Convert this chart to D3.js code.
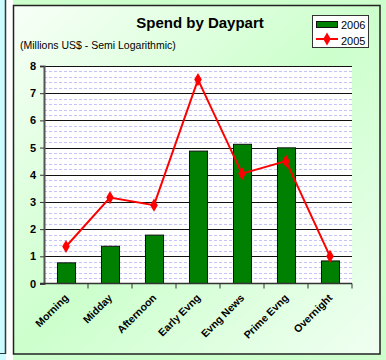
<!DOCTYPE html>
<html>
<head>
<meta charset="utf-8">
<script src="https://cdn.jsdelivr.net/npm/d3@7"></script>
<style>
  html, body { margin: 0; padding: 0; background: #ffffff; }
  svg { display: block; font-family: "Liberation Sans", Arial, sans-serif; }
</style>
</head>
<body>
<svg id="chart" width="386" height="360"></svg>
<script>
// Dayparts and spend (millions US$)
const dayparts = ["Morning", "Midday", "Afternoon", "Early Evng", "Evng News", "Prime Evng", "Overnight"];
const spend2006 = [0.76, 1.37, 1.78, 4.87, 5.12, 4.99, 0.83];
const spend2005 = [1.36, 3.16, 2.88, 7.5, 4.04, 4.5, 1.0];
const yTicks = [0, 1, 2, 3, 4, 5, 6, 7, 8];
const seriesNames = ["2006", "2005"];

const svg = d3.select("#chart");
const defs = svg.append("defs");

// Frame background
const grad = defs.append("linearGradient")
  .attr("id", "boxFill").attr("x1", 0).attr("y1", 0).attr("x2", 1).attr("y2", 1);
grad.append("stop").attr("offset", "0%").attr("stop-color", "#f8fff8");
grad.append("stop").attr("offset", "50%").attr("stop-color", "#ccffcc");
grad.append("stop").attr("offset", "100%").attr("stop-color", "#f0fff2");

svg.append("rect").attr("x", 0).attr("y", 0).attr("width", 6).attr("height", 360).attr("fill", "#ccfcff");
svg.append("rect").attr("x", 13).attr("y", 0).attr("width", 373).attr("height", 360).attr("fill", "#ccffcc");
svg.append("line").attr("x1", 5.5).attr("x2", 5.5).attr("y1", 0).attr("y2", 354).attr("stroke", "#2b3a3a").attr("stroke-width", 1.5);
svg.append("line").attr("x1", 0).attr("x2", 6).attr("y1", 353.5).attr("y2", 353.5).attr("stroke", "#2b3a3a").attr("stroke-width", 1);

svg.append("rect")
  .attr("x", 13.5).attr("y", 5.5).attr("width", 366.5).attr("height", 348.5)
  .attr("fill", "url(#boxFill)").attr("stroke", "#222").attr("stroke-width", 1.5);

// Plot geometry
const plot = { left: 44, right: 352, top: 66, bottom: 283.5 };

const x = d3.scaleBand().domain(dayparts).range([plot.left, plot.right]).paddingInner(0.59).paddingOuter(0.295);
const xStep = d3.scaleBand().domain(dayparts).range([plot.left, plot.right]).padding(0);
const y = d3.scaleLinear().domain([0, 8]).range([plot.bottom, plot.top]);

svg.append("rect")
  .attr("x", plot.left).attr("y", plot.top)
  .attr("width", plot.right - plot.left).attr("height", plot.bottom - plot.top)
  .attr("fill", "#ffffff");

// Minor gridlines every 0.2
const minor = d3.range(0, 8, 0.2).map(v => +v.toFixed(1)).filter(v => Math.abs(v - Math.round(v)) > 1e-6);
svg.append("g").selectAll("line").data(minor).join("line")
  .attr("x1", plot.left).attr("x2", plot.right)
  .attr("y1", d => Math.round(y(d)) + 0.5).attr("y2", d => Math.round(y(d)) + 0.5)
  .attr("stroke", "#c4c4f6").attr("stroke-width", 1).attr("stroke-dasharray", "3,2");

// Major gridlines
svg.append("g").selectAll("line").data(yTicks.filter(d => d > 0)).join("line")
  .attr("x1", plot.left).attr("x2", plot.right)
  .attr("y1", d => Math.round(y(d)) + 0.5).attr("y2", d => Math.round(y(d)) + 0.5)
  .attr("stroke", "#111").attr("stroke-width", 1.2);

// Bars (2006)
svg.append("g").selectAll("rect").data(dayparts).join("rect")
  .attr("x", d => x(d) + 0.5)
  .attr("y", (d, i) => y(spend2006[i]))
  .attr("width", x.bandwidth())
  .attr("height", (d, i) => y(0) - y(spend2006[i]))
  .attr("fill", "#008000").attr("stroke", "#111").attr("stroke-width", 1);

// Y axis
const yAxis = svg.append("g").attr("transform", `translate(${plot.left},0)`)
  .call(d3.axisLeft(y).tickValues(yTicks).tickSize(4).tickPadding(4).tickFormat(d3.format("d")));
yAxis.select(".domain").attr("stroke", "#555").attr("stroke-width", 2);
yAxis.selectAll(".tick line").attr("stroke", "#333");
yAxis.selectAll(".tick text").attr("font-size", 11).attr("font-weight", "bold").attr("fill", "#000")
  .attr("font-family", "Liberation Sans, Arial, sans-serif");

// X axis with ticks between categories
const xAxis = svg.append("g").attr("transform", `translate(0,${plot.bottom})`);
xAxis.append("line").attr("x1", plot.left - 4).attr("x2", plot.right).attr("y1", 0).attr("y2", 0)
  .attr("stroke", "#333").attr("stroke-width", 1.5);
const boundaries = dayparts.map(d => xStep(d) + xStep.bandwidth());
xAxis.selectAll("line.tk").data(boundaries).join("line").attr("class", "tk")
  .attr("x1", d => d).attr("x2", d => d).attr("y1", 0).attr("y2", 5)
  .attr("stroke", "#333").attr("stroke-width", 1);
xAxis.selectAll("text").data(dayparts).join("text")
  .attr("transform", d => `translate(${xStep(d) + xStep.bandwidth() / 2 + 3},${15}) rotate(-45)`)
  .attr("text-anchor", "end")
  .attr("font-size", 10.5).attr("font-weight", "bold").attr("fill", "#000")
  .text(d => d);

// Line (2005)
const line = d3.line().x((d, i) => xStep(dayparts[i]) + xStep.bandwidth() / 2).y(d => y(d));
svg.append("path").datum(spend2005)
  .attr("d", line).attr("fill", "none").attr("stroke", "#ff0000").attr("stroke-width", 2);
const diamond = d3.symbol().type(d3.symbolDiamond).size(50);
svg.append("g").selectAll("path").data(spend2005).join("path")
  .attr("transform", (d, i) => `translate(${xStep(dayparts[i]) + xStep.bandwidth() / 2},${y(d)})`)
  .attr("d", diamond).attr("fill", "#ff0000");

// Titles
svg.append("text").attr("x", 200).attr("y", 28).attr("text-anchor", "middle")
  .attr("font-size", 15).attr("font-weight", "bold").attr("fill", "#000").text("Spend by Daypart");
svg.append("text").attr("x", 20).attr("y", 49)
  .attr("font-size", 10.5).attr("fill", "#000").text("(Millions US$ - Semi Logarithmic)");

// Legend
const lg = svg.append("g");
lg.append("rect").attr("x", 312.5).attr("y", 15.5).attr("width", 56).attr("height", 32)
  .attr("fill", "#fff").attr("stroke", "#333").attr("stroke-width", 1);
lg.append("rect").attr("x", 316.5).attr("y", 21.5).attr("width", 21).attr("height", 6)
  .attr("fill", "#008000").attr("stroke", "#111").attr("stroke-width", 1);
lg.append("line").attr("x1", 316).attr("x2", 338).attr("y1", 39).attr("y2", 39)
  .attr("stroke", "#ff0000").attr("stroke-width", 2);
lg.append("path").attr("transform", "translate(327,39)").attr("d", diamond).attr("fill", "#ff0000");
lg.selectAll("text.lt").data(seriesNames).join("text").attr("class", "lt")
  .attr("x", 341).attr("y", (d, i) => 29 + i * 16)
  .attr("font-size", 11).attr("fill", "#000").text(d => d);
</script>
</body>
</html>
